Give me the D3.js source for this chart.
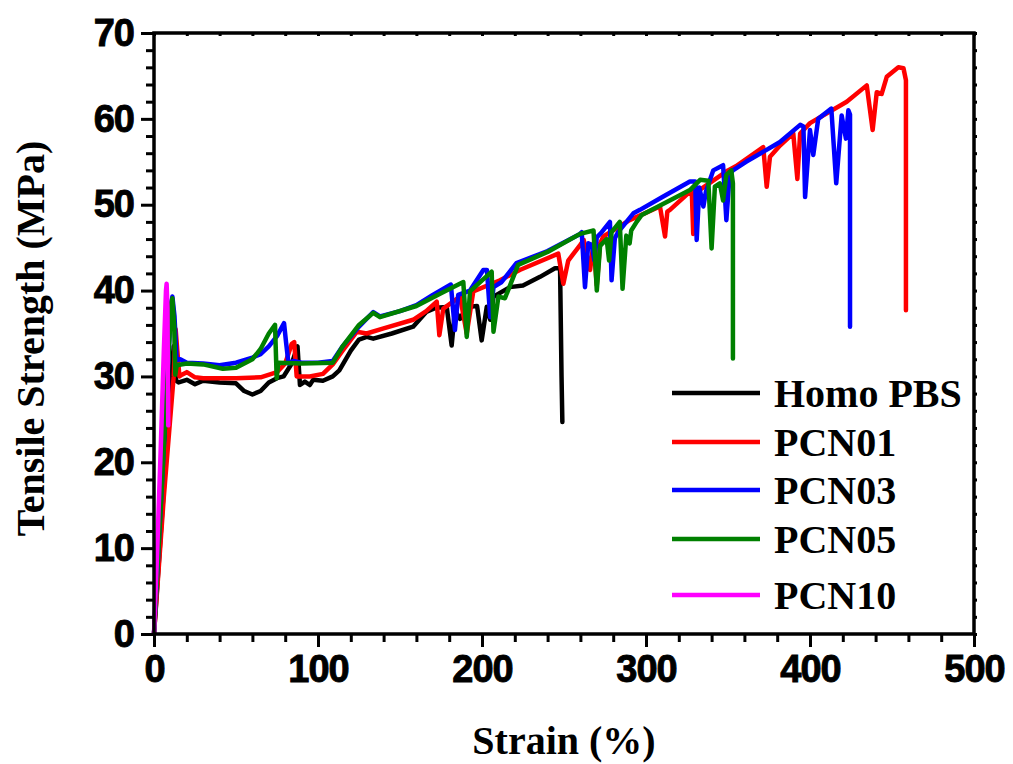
<!DOCTYPE html>
<html><head><meta charset="utf-8">
<script src="https://cdn.jsdelivr.net/npm/d3@7"></script>
<style>html,body{margin:0;padding:0;background:#fff;}svg{display:block;}</style>
</head><body>
<svg id="c" width="1013" height="764"></svg>
<script>
const seriesNames = ["Homo PBS","PCN01","PCN03","PCN05","PCN10"];
const seriesColors = ["#000000","#ff0000","#0000ff","#008000","#ff00ff"];
const xTicks = [0,100,200,300,400,500];
const yTicks = [0,10,20,30,40,50,60,70];

const homoPBS = [[0,0],[6,17],[11,31],[12,33.5],[13.5,29.5],[15,29.3],[20,29.6],[25,29.1],[30,29.5],[40,29.3],[50,29.2],[55,28.3],[60,27.9],[65,28.3],[70,29.3],[75,29.8],[79,30.0],[84,31.5],[87.5,33.5],[89,29.0],[92,29.4],[95,29.0],[97,29.6],[103,29.5],[109,30.0],[113,30.7],[120,33],[125,34.3],[129.7,34.6],[133.7,34.4],[145,35.0],[158,35.8],[166,37.5],[172,38.0],[178.5,38.1],[181.5,33.6],[183.5,37.7],[186.6,36.7],[190.7,38.1],[197,38.2],[199.8,34.2],[202.9,38.1],[205,36.6],[207,39.3],[217,40.4],[225,40.6],[235.4,41.6],[244.5,42.6],[247.6,42.6],[248.5,30],[249,24.7]];
const pcn01 = [[0,0],[6,16],[12,30],[13.2,35.5],[14.2,33],[15.5,30],[17,30.2],[20,30.5],[25,29.9],[30,29.8],[50,29.8],[65,29.9],[75,30.5],[80,31.5],[84,33.8],[85.5,34.0],[87,30.0],[95,30.0],[103,30.3],[109,31.4],[115,33],[123.6,35.2],[129.7,35.0],[140,35.6],[158,36.6],[166,37.6],[172.4,38.7],[174,34.8],[176.4,37.9],[186.6,39.3],[190.7,35.0],[194.7,39.9],[211,41.2],[223,42.4],[246.5,44.3],[249.6,40.8],[252.6,43.5],[259.8,45.3],[262,45.9],[265.9,42.4],[268,45.5],[270,40.6],[272,45.5],[274,46.3],[290,48.2],[308.5,49.8],[311.6,46.3],[313,49.2],[314.6,49.4],[327.9,51.7],[328.8,46.6],[331,51.5],[350,54.0],[355,54.5],[371.5,56.7],[373.6,52.1],[375.6,55.6],[381.7,56.9],[389.8,58.3],[392.3,53.0],[394,58.3],[400,59.5],[422.4,62.0],[434.6,63.9],[438.2,58.7],[440.7,63.1],[443.7,62.9],[446.8,64.9],[453.9,66.0],[457,65.9],[458.5,64.5],[458.5,37.7]];
const pcn03 = [[0,0],[5,18],[10.5,38.5],[11.2,39.3],[12.5,37],[13.8,31.9],[16,32],[20,31.6],[30,31.5],[40,31.3],[50,31.6],[60,32.2],[65,32.6],[70,33.5],[75,34.7],[79.3,36.2],[80.5,34],[82,31.5],[85,31.8],[90,31.6],[100,31.6],[109,31.8],[115,33.5],[125,35.8],[133.7,37.5],[137.8,37.0],[150,37.6],[160,38.3],[170,39.5],[181,40.7],[183.5,35.4],[185.5,39.5],[192.7,40.0],[200.8,42.4],[203,42.4],[205,36.9],[207,40.4],[212,41],[221,43.2],[240,44.6],[259.8,46.6],[260.8,46.8],[262.8,40.4],[264.8,45.5],[267,45.3],[268.5,43.5],[270,46.2],[273,46.8],[278,48.0],[279,41.2],[281,46.1],[283,46.8],[292.3,49.0],[296.3,49.4],[310,50.9],[326.8,52.7],[330,52.7],[330.9,45.9],[332.5,52],[335,49.8],[336.5,51.5],[341,54.0],[347,54.6],[349,48.2],[351,53.5],[353,54.0],[361,55.0],[381.7,57.3],[394,59.3],[396,59.1],[397,50.9],[399,56.2],[400,58.7],[402,55.8],[405,60.0],[413,61.2],[416,52.5],[419.3,60.4],[421.9,57.7],[423.4,61.0],[424.4,60.5],[424.4,35.8]];
const pcn05 = [[0,0],[5,18],[10.5,38.5],[11.2,39.1],[12.3,36],[13,30.2],[13.8,31.3],[20,31.5],[30,31.4],[42,30.9],[50,31.0],[60,32.0],[65,33.2],[70,35],[73.8,36.0],[74.8,29.8],[75.8,31.6],[90,31.5],[109,31.6],[115,33.5],[125,36],[133.7,37.4],[137.8,36.9],[160,38.2],[175,39.7],[188.6,41.0],[190.7,34.6],[192.7,39.9],[205.9,42.2],[207,35.2],[210,39.3],[214,39.1],[222,43.0],[240,44.5],[259.8,46.6],[268,47.0],[270,40.0],[272,45.2],[276,46.0],[277.5,43.5],[279,46.8],[284,48.0],[285.7,40.2],[288,46.4],[290,45.5],[291,47.0],[294.3,48.0],[297.4,48.8],[326.8,51.7],[333,52.9],[338,52.8],[340,44.9],[342,52.1],[345,52.5],[347,50.5],[349,53.5],[352,54.0],[353,52.5],[353,32.1]];
const pcn10 = [[0,0],[2,10],[4,21],[6,33],[7.3,40],[7.7,40.8],[8.2,38],[8.5,30],[8.7,24.3]];
const allSeries = [homoPBS, pcn01, pcn03, pcn05, pcn10];

const svg = d3.select("#c");
const L=154, R=974, T=33, B=634;
const x = d3.scaleLinear().domain([0,500]).range([L,R]);
const y = d3.scaleLinear().domain([0,70]).range([B,T]);

// series
const line = d3.line().x(d=>x(d[0])).y(d=>y(d[1]));
allSeries.forEach((s,i)=>{
  svg.append("path").datum(s).attr("d",line).attr("fill","none")
    .attr("stroke",seriesColors[i]).attr("stroke-width",4.5).attr("stroke-linejoin","round").attr("stroke-linecap","round");
});

// axes
const minorX = d3.range(0,501,20).filter(v=>v%100!==0);
const minorY = d3.range(0,71,2).filter(v=>v%10!==0);
function styleAxis(g){g.select(".domain").remove();g.selectAll("line").attr("stroke","#000").attr("stroke-width",3);}
function styleLabels(g){g.selectAll("text").attr("font-family","Liberation Sans, Arial, sans-serif").attr("font-weight","bold").attr("font-size",38).attr("fill","#000").attr("stroke","#000").attr("stroke-width",0.9).attr("letter-spacing",-1);}
svg.append("g").attr("transform",`translate(0,${B})`).call(d3.axisBottom(x).tickValues(xTicks).tickSize(13).tickPadding(8).tickFormat(d3.format("d")))
  .call(styleAxis).call(styleLabels);
svg.append("g").attr("transform",`translate(0,${B})`).call(d3.axisBottom(x).tickValues(minorX).tickSize(8).tickFormat("")).call(styleAxis);
svg.append("g").attr("transform",`translate(${L},0)`).call(d3.axisLeft(y).tickValues(yTicks).tickSize(13).tickPadding(7).tickFormat(d3.format("d")))
  .call(styleAxis).call(styleLabels);
svg.append("g").attr("transform",`translate(${L},0)`).call(d3.axisLeft(y).tickValues(minorY).tickSize(8).tickFormat("")).call(styleAxis);
// top & right small ticks
svg.append("g").attr("transform",`translate(0,${T})`).call(d3.axisBottom(x).tickValues(minorX.concat(xTicks)).tickSize(3).tickFormat("")).call(styleAxis);
svg.append("g").attr("transform",`translate(${R},0)`).call(d3.axisRight(y).tickValues(minorY.concat(yTicks)).tickSize(3).tickFormat("")).call(styleAxis);

// frame
svg.append("rect").attr("x",L).attr("y",T).attr("width",R-L).attr("height",B-T)
  .attr("fill","none").attr("stroke","#000").attr("stroke-width",3.5);

// titles
const serif = "Liberation Serif, Times New Roman, serif";
svg.append("text").attr("x",(L+R)/2).attr("y",754).attr("text-anchor","middle")
  .attr("font-family",serif).attr("font-weight","bold").attr("font-size",40).text("Strain (%)");
svg.append("text").attr("transform",`translate(44,${(T+B)/2+5}) rotate(-90)`).attr("text-anchor","middle")
  .attr("font-family",serif).attr("font-weight","bold").attr("font-size",40).text("Tensile Strength (MPa)");

// legend
const legY = [393,442,490,539,595];
seriesNames.forEach((n,i)=>{
  svg.append("line").attr("x1",672).attr("x2",760).attr("y1",legY[i]).attr("y2",legY[i])
    .attr("stroke",seriesColors[i]).attr("stroke-width",4.5);
  svg.append("text").attr("x",774).attr("y",legY[i]+14).attr("font-family",serif)
    .attr("font-weight","bold").attr("font-size",40).text(n);
});
</script>
</body></html>
